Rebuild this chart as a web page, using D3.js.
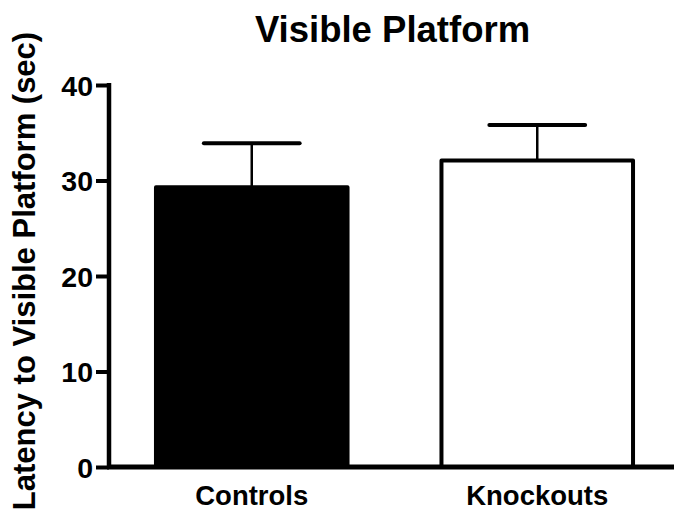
<!DOCTYPE html>
<html>
<head>
<meta charset="utf-8">
<script src="https://cdn.jsdelivr.net/npm/d3@7"></script>
<style>
html,body{margin:0;padding:0;background:#fff;}
svg{display:block;}
text{font-family:"Liberation Sans",Arial,sans-serif;font-weight:bold;fill:#000;}
</style>
</head>
<body>
<svg id="chart" width="674" height="514"></svg>
<script>
const categories = ["Controls", "Knockouts"];
const means = [29.3, 32.1];
const errors = [4.6, 3.7];
const fills = ["#000000", "#ffffff"];
const yTicks = [0, 10, 20, 30, 40];
const title = "Visible Platform";
const yLabel = "Latency to Visible Platform (sec)";

const svg = d3.select("#chart");
const x = d3.scaleBand().domain(categories).range([109, 680])
  .paddingInner(0.315).paddingOuter(0.1575).align(0.5);
const y = d3.scaleLinear().domain([0, 40]).range([467, 85]);

const data = categories.map((c, i) => ({c, m: means[i], e: errors[i], f: fills[i]}));
const sw = 4;

// error bars (up only)
const eb = svg.append("g");
data.forEach(d => {
  const cx = x(d.c) + x.bandwidth() / 2;
  eb.append("line").attr("x1", cx).attr("x2", cx)
    .attr("y1", y(d.m)).attr("y2", y(d.m + d.e))
    .attr("stroke", "#000").attr("stroke-width", 2.5);
  eb.append("line").attr("x1", cx - x.bandwidth() / 4 + 1).attr("x2", cx + x.bandwidth() / 4 - 1)
    .attr("y1", y(d.m + d.e)).attr("y2", y(d.m + d.e))
    .attr("stroke", "#000").attr("stroke-width", 4).attr("stroke-linecap", "round");
});

// bars
svg.append("g").selectAll("rect").data(data).join("rect")
  .attr("x", d => x(d.c) + sw / 2)
  .attr("y", d => y(d.m))
  .attr("width", x.bandwidth() - sw)
  .attr("height", d => y(0) - y(d.m))
  .attr("fill", d => d.f)
  .attr("stroke", "#000").attr("stroke-width", sw)
  .attr("stroke-linejoin", "round");

// y axis
const ya = svg.append("g").attr("transform", "translate(109,0)")
  .call(d3.axisLeft(y).tickValues(yTicks).tickSize(13).tickPadding(3).tickFormat(d3.format("d")));
ya.select(".domain").remove();
ya.selectAll(".tick line").attr("stroke", "#000").attr("stroke-width", 4);
ya.selectAll(".tick text").attr("font-size", 28.5).attr("font-family", "Liberation Sans, Arial, sans-serif")
  .attr("font-weight", "bold").attr("dy", "0.36em");
svg.append("line").attr("x1", 109).attr("x2", 109).attr("y1", y(40) - 2).attr("y2", y(0) + 2)
  .attr("stroke", "#000").attr("stroke-width", 4.5);

// x axis
svg.append("line").attr("x1", 107).attr("x2", 674).attr("y1", y(0)).attr("y2", y(0))
  .attr("stroke", "#000").attr("stroke-width", 5);

// x labels
svg.append("g").selectAll("text").data(categories).join("text")
  .attr("x", d => x(d) + x.bandwidth() / 2)
  .attr("y", 505)
  .attr("text-anchor", "middle")
  .attr("font-size", 27.5)
  .text(d => d);

// title
svg.append("text").attr("x", 392.5).attr("y", 42).attr("text-anchor", "middle")
  .attr("font-size", 36.5).text(title);

// y label
svg.append("text").attr("transform", "translate(35,271) rotate(-90)")
  .attr("text-anchor", "middle").attr("font-size", 31).text(yLabel);
</script>
</body>
</html>
